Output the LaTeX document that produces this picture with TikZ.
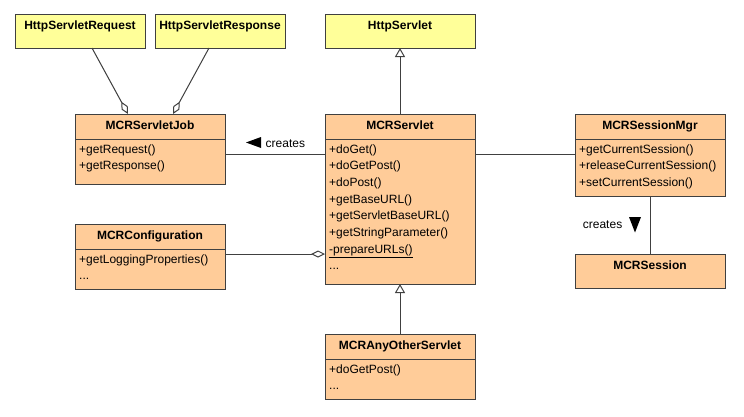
\documentclass[tikz,border=0pt]{standalone}
\usepackage{fontspec}
\setmainfont{Liberation Sans}
\usetikzlibrary{arrows.meta}
\definecolor{peach}{HTML}{FFCC99}
\definecolor{pale}{HTML}{FFFF99}
\definecolor{edgec}{HTML}{404040}
\newcommand\threedots{...}
\tikzset{
  classbox/.style={draw=edgec, line width=1pt, inner sep=0pt, outer sep=0pt, anchor=north west},
  peachbox/.style={classbox, fill=peach},
  palebox/.style={classbox, fill=pale},
  ctitle/.style={font=\fontsize{12}{14}\selectfont\bfseries, inner sep=0pt, anchor=base},
  meth/.style={font=\fontsize{12}{14}\selectfont, inner sep=0pt, anchor=base west},
  lbl/.style={font=\fontsize{12}{14}\selectfont, inner sep=0pt, anchor=base west},
  edge/.style={draw=edgec, line width=1pt},
  aggr/.style={edge, -{Diamond[open, fill=white, length=14pt, width=7pt, line width=1pt]}},
  gener/.style={edge, -{Triangle[open, fill=white, length=9pt, width=10pt, line width=1pt]}},
}
% #1 name, #2 x, #3 y, #4 height, #5 style, #6 title, #7 width
\newcommand\umlbox[7]{%
  \node[#5, minimum height=#4, minimum width=#7] (#1) at (#2,#3) {};
  \node[ctitle] (#1-t) at (#2+#7/2,#3+15.5) {#6};
}
% #1 name, #2 x, #3 y, #4 methods
\newcommand\umlmeth[4]{%
  \draw[edge] (#2,#3+25) -- (#2+150,#3+25);
  \foreach \m [count=\i] in {#4} {
    \node[meth] (#1-m\i) at (#2+4,#3+25+14+\i*16.7-16.7) {\m};
  }
}
\begin{document}
\begin{tikzpicture}[x=1pt,y=-1pt]
\useasboundingbox[fill=white] (0,0) rectangle (744,416);

\umlbox{req}{15}{14}{34}{palebox}{HttpServletRequest}{130}
\umlbox{resp}{155}{14}{34}{palebox}{HttpServletResponse}{130}
\umlbox{hs}{325}{14}{34}{palebox}{HttpServlet}{150}

\umlbox{job}{75}{114}{70}{peachbox}{MCRServletJob}{150}
\umlmeth{job}{75}{114}{+getRequest(),+getResponse()}

\umlbox{srv}{325}{114}{170}{peachbox}{MCRServlet}{150}
\umlmeth{srv}{325}{114}{+doGet(),+doGetPost(),+doPost(),+getBaseURL(),+getServletBaseURL(),+getStringParameter(),\underline{-prepareURLs()},\threedots}

\umlbox{mgr}{575}{114}{82}{peachbox}{MCRSessionMgr}{150}
\umlmeth{mgr}{575}{114}{+getCurrentSession(),+releaseCurrentSession(),+setCurrentSession()}

\umlbox{ses}{575}{254}{34}{peachbox}{MCRSession}{150}

\umlbox{conf}{75}{224}{65}{peachbox}{MCRConfiguration}{150}
\umlmeth{conf}{75}{224}{+getLoggingProperties(),\threedots}

\umlbox{any}{325}{334}{65}{peachbox}{MCRAnyOtherServlet}{150}
\umlmeth{any}{325}{334}{+doGetPost(),\threedots}

% aggregations from HttpServletRequest/Response to MCRServletJob
\draw[aggr] ([xshift=12pt]req.south) -- ([xshift=-22pt]job.north);
\draw[aggr] ([xshift=-11pt]resp.south) -- ([xshift=23pt]job.north);

% generalizations
\draw[gener] (srv.north) -- (hs.south);
\draw[gener] (any.north) -- (srv.south);

% associations
\draw[edge] ([yshift=-40pt]job.north east) -- ([yshift=-40pt]srv.north west);
\draw[edge] ([yshift=-40pt]srv.north east) -- ([yshift=-40pt]mgr.north west);
\draw[aggr] ([yshift=-30pt]conf.north east) -- ([yshift=-140pt]srv.north west);
\draw[edge] ([xshift=0.5pt]mgr.south) -- ([xshift=0.5pt]ses.north);

% labels
\node[lbl] (cr1) at (265.5,147) {creates};
\fill[black] (246,142.5) -- (261,137) -- (261,148) -- cycle;
\node[lbl] (cr2) at (582.7,228.3) {creates};
\fill[black] (629,217) -- (641,217) -- (635,232.5) -- cycle;
\end{tikzpicture}
\end{document}
